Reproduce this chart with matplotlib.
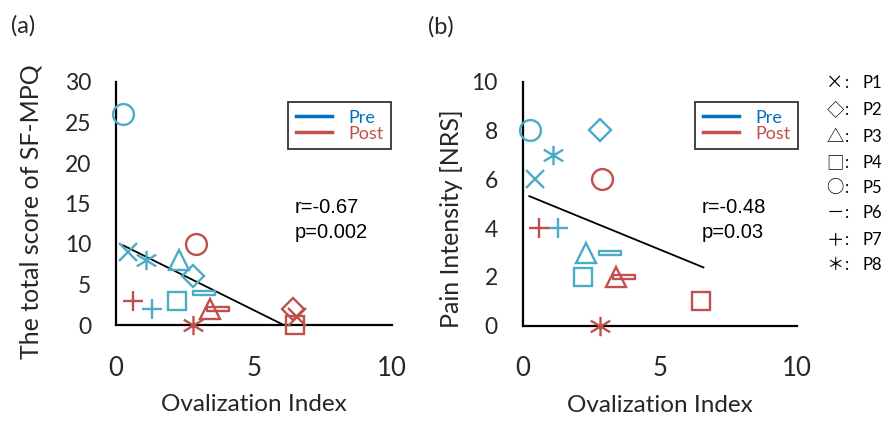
import numpy as np
import matplotlib
matplotlib.use("Agg")
import matplotlib.pyplot as plt
from matplotlib.path import Path
from matplotlib.lines import Line2D

plt.rcParams['font.family'] = ['Lato', 'DejaVu Sans']

# ovalization index per participant (same for both panels)
participants = ['P1', 'P2', 'P3', 'P4', 'P5', 'P6', 'P7', 'P8']
oi_pre = [0.45, 2.8, 2.3, 2.2, 0.25, 3.2, 1.3, 1.1]
oi_post = [6.55, 6.4, 3.4, 6.5, 2.9, 3.7, 0.6, 2.8]

# (a) SF-MPQ total score
sfmpq_pre = [9, 6, 8, 3, 26, 4, 2, 8]
sfmpq_post = [1, 2, 2, 0, 10, 2, 3, 0]

# (b) NRS pain intensity (P1, P2 post not shown)
nrs_pre = [6, 8, 3, 2, 8, 3, 4, 7]
nrs_post = [np.nan, np.nan, 2, 1, 6, 2, 4, 0]

# linear trend lines: x range, slope, intercept
trend_a_x = [0.25, 6.55]
trend_a_coef = (-1.69, 10.27)
trend_b_x = [0.24, 6.59]
trend_b_coef = (-0.46, 5.42)

stats_a = 'r=-0.67\np=0.002'
stats_b = 'r=-0.48\np=0.03'

PRE = '#4BACC6'
POST = '#C0504D'
PRE_LEG = '#0070C0'
TXT = '#262626'

W, H = 888, 424
def fx(x): return x / W
def fy(y): return 1 - y / H

# custom marker shapes
star = Path([(0, -1), (0, 1), (-1, -0.6), (1, 0.6), (-1, 0.6), (1, -0.6)],
            [Path.MOVETO, Path.LINETO] * 3)
bar = Path([(-1, -0.18), (1, -0.18), (1, 0.18), (-1, 0.18), (-1, -0.18)],
           [Path.MOVETO] + [Path.LINETO] * 3 + [Path.CLOSEPOLY])
markers = ['x', 'D', '^', 's', 'o', bar, '+', star]
sizes = [13, 11, 14, 13, 15, 16, 15, 14]

fig = plt.figure(figsize=(W / 100, H / 100), dpi=100)
ax_a = fig.add_axes([fx(116), fy(325), fx(392) - fx(116), fy(82) - fy(325)])
ax_b = fig.add_axes([fx(522.7), fy(325.7), fx(797) - fx(522.7), fy(81.7) - fy(325.7)])


def draw_panel(ax, y_pre, y_post, tx, coef, ymax, ystep, ylabel, stats, stats_x):
    for i in range(len(participants)):
        for xs, ys, c in ((oi_pre, y_pre, PRE), (oi_post, y_post, POST)):
            if np.isnan(ys[i]):
                continue
            ax.plot(xs[i], ys[i], ls='none', marker=markers[i], ms=sizes[i],
                    mfc='none', mec=c, mew=1.7, clip_on=False, zorder=3)
    tx = np.array(tx)
    ax.plot(tx, coef[0] * tx + coef[1], color='black', lw=1.3, zorder=2)

    ax.set_xlim(0, 10)
    ax.set_ylim(0, ymax)
    ax.set_xticks([0, 5, 10])
    ax.set_yticks(np.arange(0, ymax + 1, ystep))
    for s in ('top', 'right'):
        ax.spines[s].set_visible(False)
    for s in ('left', 'bottom'):
        ax.spines[s].set_linewidth(1.6)
        ax.spines[s].set_color('black')
    ax.tick_params(length=0, labelcolor=TXT)
    ax.tick_params(axis='x', pad=22, labelsize=18.5)
    ax.tick_params(axis='y', pad=18, labelsize=16.5)
    ax.set_xlabel('Ovalization Index', fontsize=17.5, color=TXT)
    ax.set_ylabel(ylabel, fontsize=18, color=TXT)
    ax.xaxis.set_label_coords(0.5, -0.285)

    handles = [Line2D([], [], color=PRE_LEG, lw=2.5), Line2D([], [], color=POST, lw=2.5)]
    leg = ax.legend(handles, ['Pre', 'Post'], loc='upper left',
                    bbox_to_anchor=(fx(stats_x - 7), fy(102)), bbox_transform=fig.transFigure,
                    fontsize=13, frameon=True, fancybox=False, edgecolor='black',
                    handlelength=2.0, handletextpad=0.9, labelspacing=0.0,
                    borderpad=0.42, borderaxespad=0)
    leg.get_frame().set_linewidth(1.3)
    for t, c in zip(leg.get_texts(), (PRE_LEG, POST)):
        t.set_color(c)

    fig.text(fx(stats_x), fy(220), stats, fontsize=14.5, family='Liberation Sans',
             va='center', ha='left', linespacing=1.4)


draw_panel(ax_a, sfmpq_pre, sfmpq_post, trend_a_x, trend_a_coef, 30, 5,
           'The total score of SF-MPQ', stats_a, 295)
ax_a.yaxis.set_label_coords(-0.268, 0.465)
draw_panel(ax_b, nrs_pre, nrs_post, trend_b_x, trend_b_coef, 10, 2,
           'Pain Intensity [NRS]', stats_b, 702)
ax_b.yaxis.set_label_coords(-0.218, 0.44)

fig.text(fx(11), fy(26), '(a)', fontsize=17, color=TXT, va='center')
fig.text(fx(428), fy(27), '(b)', fontsize=17, color=TXT, va='center')

# participant symbol key
key_glyphs = ['×', '◇', '△', '□', '○', '－', '＋', '＊']
key_y = [83, 110, 137, 163, 188, 213, 240, 265]
for g, p, y in zip(key_glyphs, participants, key_y):
    fig.text(fx(835), fy(y), g, fontsize=12.5, ha='center', va='center',
             family=['Noto Sans CJK JP', 'DejaVu Sans'])
    fig.text(fx(847), fy(y), ':', fontsize=12, ha='center', va='center')
    fig.text(fx(862), fy(y), p, fontsize=12, ha='left', va='center')

fig.savefig('out.png', dpi=100)
